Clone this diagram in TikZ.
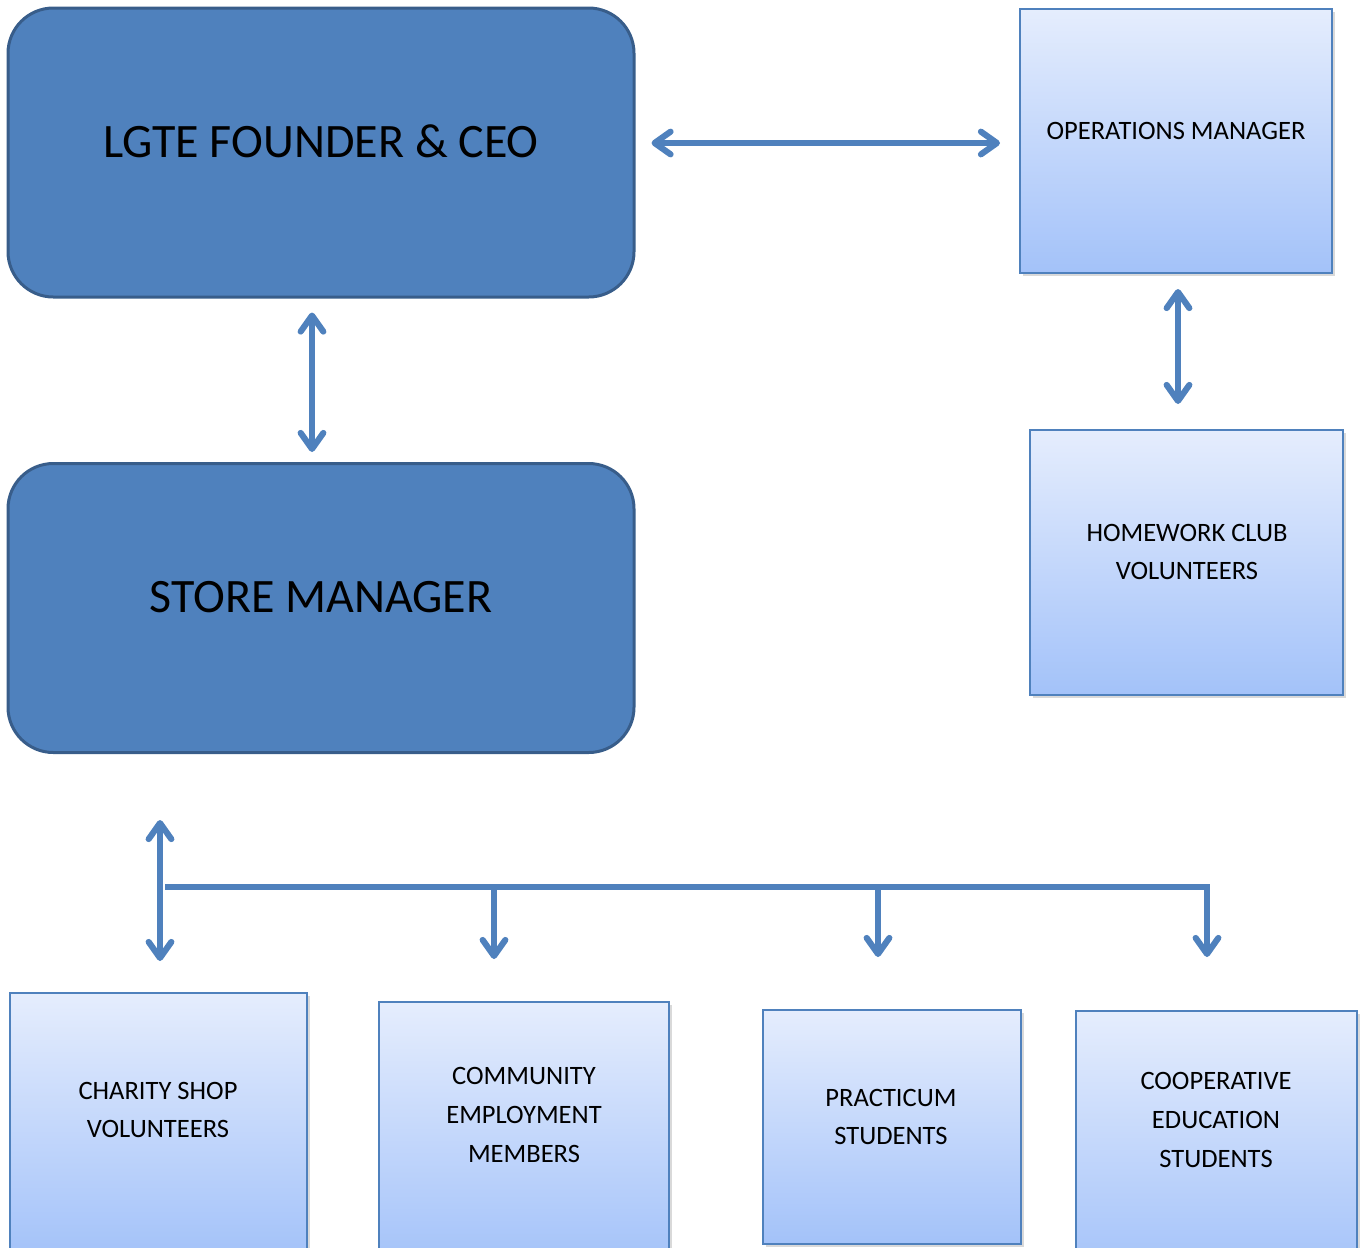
\documentclass[tikz,border=0pt]{standalone}
\usepackage{fontspec}
\setmainfont{Carlito}
\usetikzlibrary{arrows.meta,calc,shadows}
\definecolor{accent}{HTML}{4F81BD}
\definecolor{darkborder}{HTML}{385D8A}
\definecolor{lighttop}{HTML}{E5EDFD}
\definecolor{lightbot}{HTML}{A3C2F9}
\begin{document}
\begin{tikzpicture}[x=0.75pt,y=-0.75pt,
  bigbox/.style={draw=darkborder, line width=2.25pt, fill=accent, rounded corners=34pt,
    minimum width=469.5pt, minimum height=216.75pt, inner sep=0pt},
  lightbox/.style={draw=accent, line width=1.5pt, top color=lighttop, bottom color=lightbot,
    inner sep=0pt, drop shadow={opacity=0.3, shadow xshift=2pt, shadow yshift=-2pt}},
  bigtxt/.style={font=\fontsize{36}{44}\selectfont, inner sep=0pt},
  smalltxt/.style={font=\fontsize{19.9}{29.2}\selectfont, align=center, inner sep=0pt},
  tipshape/.tip={Straight Barb[length=12pt, width=17pt, line width=4.6pt, round]},
  link/.style={draw=accent, line width=3.9pt},
  dbl/.style={link, tipshape-tipshape},
  one/.style={link, -tipshape},
]
\useasboundingbox (0,0) rectangle (1364,1247);
\clip (0,0) rectangle (1364,1247);

% boxes
\node[bigbox] (ceo) at (321,152.5) {};
\node[bigtxt] (ceotxt) at (321,141) {LGTE FOUNDER \& CEO};
\node[bigbox] (store) at (321,608) {};
\node[bigtxt] (storetxt) at (321,597) {STORE MANAGER};

\node[lightbox, minimum width=234pt, minimum height=198pt] (ops) at (1176,141) {};
\node[smalltxt] (opstxt) at (1176,131) {OPERATIONS MANAGER};

\node[lightbox, minimum width=234.75pt, minimum height=198.75pt] (hw) at (1186.5,562.5) {};
\node[smalltxt] (hwtxt) at (1187,552) {HOMEWORK CLUB\\VOLUNTEERS};

\node[lightbox, minimum width=222.75pt, minimum height=198.75pt] (charity) at (158.5,1125.5) {};
\node[smalltxt] (charitytxt) at (158,1110) {CHARITY SHOP\\VOLUNTEERS};

\node[lightbox, minimum width=217.5pt, minimum height=198.75pt] (comm) at (524,1134.5) {};
\node[smalltxt] (commtxt) at (524,1115) {COMMUNITY\\EMPLOYMENT\\MEMBERS};

\node[lightbox, minimum width=193.5pt, minimum height=175.5pt] (prac) at (892,1127) {};
\node[smalltxt] (practxt) at (891,1117) {PRACTICUM\\STUDENTS};

\node[lightbox, minimum width=210.75pt, minimum height=198.75pt] (coop) at (1216.5,1143.5) {};
\node[smalltxt] (cooptxt) at (1216,1120) {COOPERATIVE\\EDUCATION\\STUDENTS};

% connectors
\coordinate (a1) at ($(ceo.east)+(16,-9.5)$);
\coordinate (a2) at ($(a1 -| ops.west)+(-19,0)$);
\draw[dbl] (a1) -- (a2);

\coordinate (b1) at ($(ceo.south)+(-9,14)$);
\coordinate (b2) at ($(b1 |- store.north)+(0,-10)$);
\draw[dbl] (b1) -- (b2);

\coordinate (c1) at ($(ops.south)+(2,15)$);
\coordinate (c2) at ($(c1 |- hw.north)+(0,-25)$);
\draw[dbl] (c1) -- (c2);

\coordinate (d1) at ($(store.south)+(-161,66)$);
\coordinate (d2) at ($(d1 |- charity.north)+(0,-31)$);
\draw[dbl] (d1) -- (d2);

\coordinate (busL) at ($(d1)+(5,67)$);
\coordinate (busR) at ($(busL -| coop.north)+(-9.5,0)$);
\coordinate (e4) at ($(busR |- coop.north)+(0,-53)$);
\draw[one, line join=miter] (busL) -- (busR) -- (e4);

\coordinate (e2t) at ($(busL -| comm.north)+(-30,0)$);
\coordinate (e2) at ($(e2t |- comm.north)+(0,-42)$);
\draw[one] (e2t) -- (e2);

\coordinate (e3t) at ($(busL -| prac.north)+(-14,0)$);
\coordinate (e3) at ($(e3t |- prac.north)+(0,-52)$);
\draw[one] (e3t) -- (e3);
\end{tikzpicture}
\end{document}
